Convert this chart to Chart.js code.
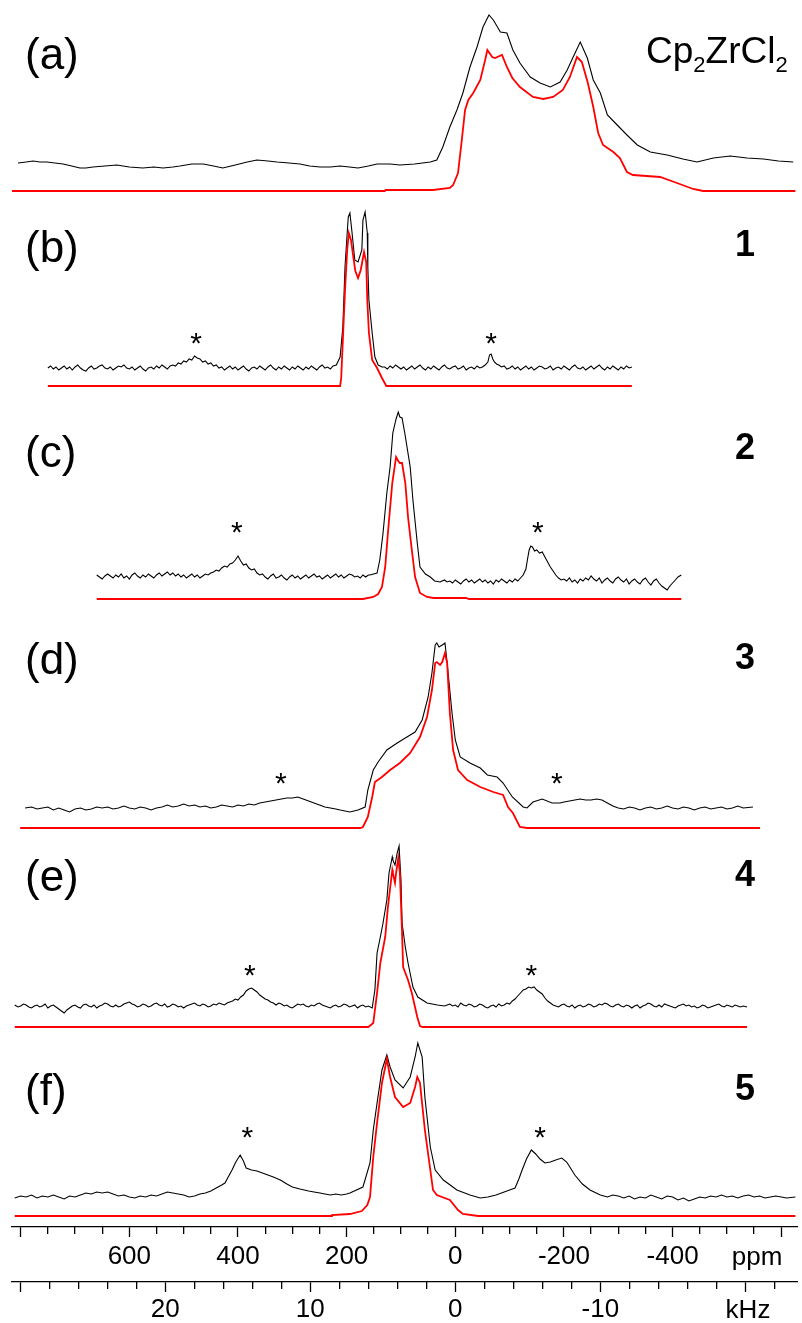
<!DOCTYPE html>
<html><head><meta charset="utf-8">
<script src="https://cdn.jsdelivr.net/npm/chart.js@4.4.1/dist/chart.umd.min.js"></script>
<style>html,body{margin:0;padding:0;background:#fff}canvas{display:block}</style>
</head><body>
<canvas id="c" width="802" height="1323"></canvas>
<script>
// ---------------- labels / ticks ----------------
const panelLetters = ['(a)', '(b)', '(c)', '(d)', '(e)', '(f)'];
const compoundNumbers = ['', '1', '2', '3', '4', '5'];
const formulaParts = [['Cp', false], ['2', true], ['ZrCl', false], ['2', true]];
const ppmTickValues = [800,750,700,650,600,550,500,450,400,350,300,250,200,150,100,50,0,-50,-100,-150,-200,-250,-300,-350,-400,-450,-500,-550,-600];
const ppmTickLabels = [600, 400, 200, 0, -200, -400];
const khzTickValues = [30,28,26,24,22,20,18,16,14,12,10,8,6,4,2,0,-2,-4,-6,-8,-10,-12,-14,-16,-18,-20,-22];
const khzTickLabels = [20, 10, 0, -10];
// spinning sideband positions (ppm) marked with asterisks, panels b-f
const sidebandPpm = [[], [477, -66], [402, -152], [321, -187], [378, -140], [383, -156]];

// ---------------- spectra: [ppm, intensity] ----------------
// (a) Cp2ZrCl2
const expA = [[805,2],[790,3],[777,4],[765,3],[752,3],[737,2],[722,1],[706,-1],[691,-3],[680,-3],[667,-2],[645,-1],[623,0],[600,-2],[575,-3],[555,-2],[538,-3],[520,-2],[507,-1],[485,1],[464,1],[445,-1],[428,-3],[405,0],[383,3],[365,5],[345,4],[328,3],[306,2],[286,1],[268,-1],[249,-2],[230,-2],[212,-1],[195,-2],[179,-3],[160,-1],[144,1],[120,1],[102,0],[75,1],[46,3],[34,5],[23,18],[10,38],[-3,55],[-14,72],[-27,98],[-40,118],[-51,138],[-62,150],[-70,145],[-83,133],[-95,132],[-106,115],[-119,102],[-138,88],[-156,82],[-175,78],[-193,83],[-206,95],[-217,108],[-230,123],[-243,107],[-254,85],[-267,72],[-280,50],[-298,40],[-316,30],[-335,20],[-359,13],[-390,10],[-419,6],[-445,3],[-475,7],[-506,9],[-537,7],[-567,6],[-595,4],[-622,3]];
const simA = [[816,0],[130,0],[128,1],[41,1],[10,3],[4,6],[-5,18],[-12,51],[-18,81],[-24,91],[-33,98],[-46,111],[-55,131],[-59,141],[-68,134],[-73,133],[-86,136],[-95,124],[-105,113],[-119,104],[-143,94],[-162,92],[-180,94],[-198,101],[-211,114],[-224,134],[-233,129],[-244,108],[-254,84],[-263,58],[-272,46],[-291,39],[-303,33],[-316,19],[-327,16],[-377,14],[-408,8],[-438,2],[-456,0],[-626,0]];
// (b) compound 1
const expB = [[750,0],[745,2],[740,-1],[735,1],[730,-2],[725,0],[720,2],[715,-1],[710,1],[705,-2],[700,1],[695,3],[690,0],[685,-2],[680,-3],[675,0],[670,2],[665,-1],[660,0],[655,2],[650,3],[645,0],[640,-1],[635,1],[630,-2],[625,0],[620,2],[615,1],[610,3],[605,0],[600,-1],[595,1],[590,-2],[585,0],[580,2],[575,-1],[570,-3],[565,0],[560,1],[555,-1],[550,2],[545,0],[540,3],[535,1],[530,-1],[525,2],[520,3],[515,2],[510,5],[505,4],[500,7],[495,6],[490,9],[485,8],[480,12],[475,10],[470,9],[465,6],[460,7],[455,4],[450,5],[445,2],[440,3],[435,0],[430,1],[425,-2],[420,0],[415,2],[410,-1],[405,1],[400,-2],[395,0],[390,2],[385,-1],[380,-3],[375,0],[370,1],[365,-1],[360,2],[355,0],[350,-2],[345,1],[340,3],[335,0],[330,-2],[325,1],[320,-1],[315,2],[310,0],[305,-2],[300,1],[295,-1],[290,2],[285,0],[280,-2],[275,1],[270,-1],[265,2],[260,0],[255,-2],[250,1],[245,3],[240,0],[235,1],[230,-1],[225,2],[219,3],[212,11],[207,41],[203,101],[199,135],[197,151],[194,155],[190,135],[185,108],[179,106],[172,118],[170,148],[166,156],[162,135],[161,101],[159,68],[153,35],[148,11],[142,3],[135,1],[130,1],[125,-1],[120,2],[115,0],[110,3],[105,1],[100,-1],[95,1],[90,-2],[85,0],[80,2],[75,-1],[70,1],[65,3],[60,0],[55,-2],[50,1],[45,-1],[40,2],[35,0],[30,-2],[25,1],[20,3],[15,0],[10,-1],[5,1],[0,2],[-5,-1],[-10,0],[-15,2],[-20,-2],[-25,0],[-30,1],[-35,-1],[-40,2],[-45,0],[-50,1],[-55,3],[-60,6],[-63,13],[-66,14],[-69,9],[-72,6],[-76,4],[-80,3],[-85,1],[-90,2],[-95,-1],[-100,0],[-105,2],[-110,-1],[-115,1],[-120,-2],[-125,0],[-130,2],[-135,-1],[-140,1],[-145,-2],[-150,0],[-155,2],[-160,1],[-165,-1],[-170,0],[-175,2],[-180,-2],[-185,0],[-190,1],[-195,-1],[-200,2],[-205,0],[-210,-2],[-215,1],[-220,3],[-225,0],[-230,-1],[-235,1],[-240,-2],[-245,0],[-250,2],[-255,-1],[-260,1],[-265,3],[-270,0],[-275,-2],[-280,1],[-285,-1],[-290,2],[-295,0],[-300,-2],[-305,1],[-310,-1],[-315,2],[-320,0],[-325,1]];
const simB = [[750,0],[212,0],[210,8],[207,46],[203,96],[199,136],[196,153],[192,146],[188,130],[184,115],[179,108],[174,116],[168,134],[164,124],[162,86],[159,53],[153,26],[144,18],[135,8],[127,0],[-325,0]];
// (c) compound 2
const expC = [[660,2],[655,0],[650,-2],[645,1],[640,3],[635,1],[630,-1],[625,2],[620,0],[615,3],[610,-1],[605,1],[600,-2],[595,2],[590,4],[585,1],[580,-1],[575,2],[570,0],[565,3],[560,1],[555,-1],[550,2],[545,4],[540,1],[535,3],[530,5],[525,2],[520,4],[515,1],[510,3],[505,0],[500,2],[495,-1],[490,1],[485,3],[480,0],[475,2],[470,-1],[465,1],[460,3],[455,2],[450,4],[445,5],[440,7],[435,6],[430,9],[425,11],[420,10],[415,13],[410,14],[405,17],[400,21],[395,16],[390,12],[385,13],[380,9],[375,7],[370,8],[365,4],[360,2],[355,3],[350,0],[345,-2],[340,1],[335,3],[330,-1],[325,0],[320,2],[315,-1],[310,-3],[305,0],[300,2],[295,-1],[290,1],[285,-2],[280,0],[275,2],[270,-1],[265,1],[260,3],[255,0],[250,1],[245,-2],[240,0],[235,2],[230,-1],[225,1],[220,3],[215,0],[210,2],[205,-1],[200,1],[195,3],[190,2],[185,0],[180,1],[175,-1],[170,2],[165,0],[160,2],[157,2],[144,4],[139,17],[133,44],[126,84],[120,110],[115,144],[109,158],[105,165],[102,160],[98,159],[93,144],[83,110],[78,77],[70,34],[65,10],[55,3],[46,0],[38,-4],[28,-5],[20,-3],[15,-5],[10,-4],[5,-6],[0,-3],[-5,-5],[-10,-7],[-15,-4],[-20,-2],[-25,-5],[-30,-3],[-35,-6],[-40,-4],[-45,-2],[-50,-5],[-55,-3],[-60,-6],[-65,-4],[-70,-7],[-75,-3],[-80,-5],[-85,-2],[-90,-4],[-95,-6],[-100,-3],[-105,-5],[-110,-2],[-115,-4],[-120,-1],[-125,2],[-130,8],[-133,18],[-136,27],[-139,31],[-142,30],[-146,26],[-150,27],[-155,24],[-160,25],[-165,20],[-170,15],[-175,10],[-180,6],[-185,2],[-190,-1],[-195,-3],[-200,-2],[-205,-4],[-210,-1],[-215,-5],[-220,-3],[-225,-6],[-230,-2],[-235,-4],[-240,-1],[-245,-3],[-250,1],[-255,-2],[-260,-4],[-265,-1],[-270,-6],[-275,-3],[-280,-1],[-285,-4],[-290,-6],[-295,-2],[-300,0],[-305,-3],[-310,-5],[-315,-2],[-320,-7],[-325,-4],[-330,-2],[-335,-5],[-340,-7],[-345,-3],[-350,-1],[-355,-5],[-360,-8],[-365,-4],[-370,-2],[-375,-6],[-380,-9],[-385,-11],[-390,-13],[-395,-9],[-400,-6],[-405,-3],[-410,0],[-416,2]];
const simC = [[660,0],[170,0],[151,2],[142,5],[135,12],[129,32],[124,66],[116,116],[109,142],[105,138],[102,136],[98,136],[92,116],[87,82],[80,49],[74,22],[65,6],[52,2],[40,1],[-20,1],[-25,0],[-416,0]];
// (d) compound 3
const expD = [[792,0],[780,1],[770,-1],[760,0],[750,1],[740,-2],[730,0],[720,-2],[710,-4],[700,-1],[690,0],[680,-2],[670,-1],[660,1],[650,0],[640,1],[630,-1],[620,0],[610,2],[600,0],[590,-1],[580,1],[570,0],[560,-2],[550,0],[540,1],[530,3],[520,1],[510,2],[500,4],[490,2],[480,3],[470,1],[460,2],[450,0],[440,1],[430,3],[420,2],[410,1],[400,3],[390,2],[380,4],[370,3],[360,5],[350,6],[340,7],[330,8],[320,9],[310,10],[300,10],[290,11],[280,9],[270,7],[260,5],[250,3],[240,1],[230,0],[220,-1],[212,-2],[194,-4],[179,-2],[166,1],[161,18],[151,38],[142,46],[126,58],[107,65],[89,71],[74,76],[61,88],[50,111],[43,135],[37,163],[34,165],[30,161],[24,163],[19,165],[15,145],[6,95],[0,68],[-9,51],[-27,45],[-46,40],[-59,33],[-77,31],[-88,25],[-105,11],[-125,1],[-132,0],[-143,6],[-160,9],[-178,5],[-193,5],[-200,6],[-210,7],[-220,8],[-230,9],[-240,8],[-250,8],[-260,9],[-270,8],[-280,5],[-290,2],[-300,0],[-310,-1],[-320,1],[-330,0],[-340,-2],[-350,0],[-360,1],[-370,-1],[-380,0],[-390,2],[-400,0],[-410,-1],[-420,1],[-430,0],[-440,-2],[-450,0],[-460,1],[-470,-1],[-480,0],[-490,1],[-500,-1],[-510,0],[-520,2],[-530,0],[-548,1]];
const simD = [[801,0],[175,0],[170,1],[161,11],[153,31],[148,46],[135,51],[120,58],[102,65],[83,75],[65,91],[52,111],[43,138],[37,165],[34,166],[28,163],[24,166],[19,175],[15,165],[10,115],[4,78],[-5,58],[-22,48],[-46,41],[-70,36],[-88,33],[-97,21],[-106,15],[-119,1],[-132,0],[-561,0]];
// (e) compound 4
const expE = [[811,1],[805,-1],[800,0],[795,2],[790,1],[785,-1],[780,-2],[775,0],[770,1],[765,-1],[760,0],[755,2],[750,-2],[745,0],[740,1],[735,-1],[730,-3],[725,-5],[720,-7],[715,-4],[710,-2],[705,0],[700,1],[695,-1],[690,-2],[685,1],[680,2],[675,0],[670,-1],[665,1],[660,-2],[655,0],[650,1],[645,3],[640,2],[635,0],[630,-1],[625,1],[620,-1],[615,0],[610,2],[605,3],[600,4],[595,2],[590,1],[585,-1],[580,0],[575,2],[570,1],[565,-1],[560,0],[555,2],[550,3],[545,1],[540,0],[535,2],[530,-1],[525,0],[520,2],[515,1],[510,-1],[505,0],[500,-2],[495,0],[490,1],[485,2],[480,3],[475,1],[470,0],[465,2],[460,1],[455,-1],[450,0],[445,2],[440,1],[435,3],[430,2],[425,1],[420,3],[415,4],[410,5],[405,7],[400,6],[395,9],[390,11],[385,15],[380,17],[375,18],[370,16],[365,14],[360,11],[355,9],[350,7],[345,6],[340,4],[335,3],[330,1],[325,3],[320,2],[315,0],[310,1],[305,-1],[300,-2],[295,0],[290,2],[285,1],[280,2],[275,0],[270,-1],[265,1],[260,0],[255,2],[250,3],[245,1],[240,0],[235,-1],[230,-2],[225,0],[220,1],[215,-1],[210,0],[205,2],[200,1],[195,-1],[190,0],[185,1],[180,-2],[175,0],[170,1],[165,-1],[160,0],[153,-2],[148,16],[144,53],[138,69],[133,83],[126,106],[122,133],[116,149],[115,146],[111,141],[107,153],[103.5,160],[100,126],[98,83],[92,59],[87,43],[78,19],[69,9],[52,3],[33,1],[20,0],[15,1],[10,2],[5,0],[0,1],[-5,-1],[-10,3],[-15,1],[-20,0],[-25,2],[-30,1],[-35,-1],[-40,0],[-45,2],[-50,1],[-55,-1],[-60,-2],[-65,0],[-70,1],[-75,-1],[-80,2],[-85,0],[-90,1],[-95,3],[-100,2],[-105,5],[-110,7],[-115,10],[-120,13],[-125,16],[-130,17],[-135,19],[-140,18],[-145,19],[-150,16],[-155,14],[-160,12],[-165,8],[-170,5],[-175,3],[-180,1],[-185,0],[-190,-1],[-195,1],[-200,2],[-205,0],[-210,-1],[-215,1],[-220,-2],[-225,0],[-230,1],[-235,-1],[-240,0],[-245,2],[-250,1],[-255,-1],[-260,0],[-265,2],[-270,1],[-275,3],[-280,2],[-285,0],[-290,-1],[-295,1],[-300,2],[-305,0],[-310,-1],[-315,1],[-320,0],[-325,-2],[-330,0],[-335,1],[-340,-2],[-345,0],[-350,1],[-355,3],[-360,2],[-365,0],[-370,-1],[-375,1],[-380,-1],[-385,2],[-390,1],[-395,0],[-400,-1],[-405,-2],[-410,0],[-415,1],[-420,2],[-425,0],[-430,1],[-435,-1],[-440,0],[-445,-2],[-450,-1],[-455,1],[-460,0],[-465,-2],[-470,-1],[-475,0],[-480,1],[-485,2],[-490,0],[-495,-1],[-500,1],[-505,0],[-510,-1],[-515,1],[-520,0],[-525,-1],[-530,0],[-537,-1]];
const simE = [[811,0],[160,0],[151,4],[144,34],[138,64],[129,90],[124,120],[116,157],[115,154],[111,144],[109,154],[105,169],[102,154],[98,94],[96,60],[87,47],[80,34],[70,10],[65,1],[60,0],[-537,0]];
// (f) compound 5
const expF = [[811,-1],[800,1],[790,0],[780,2],[770,-1],[760,1],[750,0],[740,2],[730,0],[720,-2],[710,1],[700,0],[690,2],[680,4],[670,3],[660,5],[650,4],[640,5],[630,3],[620,1],[610,2],[600,0],[590,-1],[580,1],[570,0],[560,2],[550,1],[540,3],[530,5],[520,4],[510,3],[500,2],[490,0],[480,1],[470,3],[460,4],[450,6],[440,9],[430,12],[424,14],[418,20],[411,27],[404,35],[396,42],[390,36],[385,29],[375,27],[365,26],[355,24],[345,22],[335,20],[322,17],[310,13],[300,10],[286,8],[270,6],[260,5],[249,4],[240,3],[230,2],[220,3],[210,2],[200,3],[194,4],[170,10],[157,34],[151,67],[144,94],[135,127],[126,142],[120,130],[111,117],[96,109],[83,120],[74,140],[69,154],[61,140],[56,100],[46,50],[37,27],[22,17],[-3,7],[-27,2],[-46,-1],[-60,0],[-75,2],[-90,5],[-100,7],[-110,9],[-117,18],[-123,27],[-131,38],[-140,47],[-148,43],[-156,38],[-165,34],[-175,35],[-185,37],[-196,39],[-205,35],[-212,29],[-220,22],[-234,13],[-248,7],[-267,2],[-280,0],[-290,2],[-300,1],[-310,-1],[-320,1],[-330,-2],[-340,0],[-350,-1],[-360,2],[-370,0],[-380,-2],[-390,1],[-400,0],[-410,-3],[-420,-1],[-430,-4],[-440,-2],[-450,0],[-460,-1],[-470,1],[-480,0],[-490,2],[-500,0],[-510,1],[-520,-1],[-530,1],[-540,2],[-550,0],[-560,1],[-570,-1],[-580,0],[-590,1],[-600,0],[-610,-1],[-626,0]];
const simF = [[811,0],[228,0],[227,1],[194,2],[172,5],[162,11],[157,19],[151,59],[144,93],[135,133],[126,157],[120,139],[111,119],[96,109],[83,113],[74,129],[70,139],[65,133],[56,86],[46,46],[41,26],[34,21],[10,16],[-5,6],[-14,2],[-42,0],[-626,0]];

// ---------------- layout (pixels) ----------------
const PLOT_H = 1227;
const layout = {
  expBase: [165, 368, 577, 808, 1006, 1197],
  simBase: [191, 386, 599, 828, 1027, 1216],
  letterX: 25,
  letterBaseline: [69, 262, 467, 674, 891, 1105],
  numberX: 745,
  numberBaseline: [0, 256, 459, 669, 886, 1100],
  starBaseline: [0, 353, 542, 793, 985, 1147],
  formulaX: 646, formulaBaseline: 63
};
const FONT = '"Liberation Sans", Arial, Helvetica, sans-serif';

const spectra = [[expA, simA], [expB, simB], [expC, simC], [expD, simD], [expE, simE], [expF, simF]];
const datasets = [];
spectra.forEach(([exp, sim], i) => {
  datasets.push({
    label: 'sim' + i,
    data: sim.map(([p, v]) => ({x: p, y: PLOT_H - layout.simBase[i] + v})),
    borderColor: '#ff0000', borderWidth: 1.8, order: 1, fill: false, pointRadius: 0, tension: 0
  });
  datasets.push({
    label: 'exp' + i,
    data: exp.map(([p, v]) => ({x: p, y: PLOT_H - layout.expBase[i] + v})),
    borderColor: '#000000', borderWidth: 1.1, order: 2, fill: false, pointRadius: 0, tension: 0
  });
});

function alignPx(p, w) { const h = w / 2; return Math.round(p - h) + h; }

const annotPlugin = {
  id: 'annot',
  afterDraw(chart) {
    const ctx = chart.ctx;
    const xs = chart.scales.x, x2 = chart.scales.x2;
    ctx.save();
    // minor ticks (shorter than major ones)
    ctx.strokeStyle = '#000'; ctx.lineWidth = 1.3;
    [[xs, 200], [x2, 10]].forEach(([s, every]) => {
      s.ticks.forEach(t => {
        if (Math.abs(Math.round(t.value)) % every !== 0) {
          const px = alignPx(s.getPixelForValue(t.value), 1.3);
          ctx.beginPath(); ctx.moveTo(px, s.top); ctx.lineTo(px, s.top + 7); ctx.stroke();
        }
      });
    });
    ctx.fillStyle = '#000';
    ctx.textBaseline = 'alphabetic';
    // panel letters
    ctx.font = '44px ' + FONT; ctx.textAlign = 'left';
    panelLetters.forEach((t, i) => ctx.fillText(t, layout.letterX, layout.letterBaseline[i]));
    // compound numbers
    ctx.font = 'bold 36px ' + FONT; ctx.textAlign = 'center';
    compoundNumbers.forEach((t, i) => { if (t) ctx.fillText(t, layout.numberX, layout.numberBaseline[i]); });
    // formula
    ctx.textAlign = 'left';
    let fx = layout.formulaX;
    formulaParts.forEach(([t, sub]) => {
      ctx.font = (sub ? '22px ' : '37px ') + FONT;
      ctx.fillText(t, fx, layout.formulaBaseline + (sub ? 9 : 0));
      fx += ctx.measureText(t).width;
    });
    // asterisks
    ctx.font = '30px ' + FONT; ctx.textAlign = 'center';
    sidebandPpm.forEach((arr, i) => arr.forEach(p => ctx.fillText('*', xs.getPixelForValue(p), layout.starBaseline[i])));
    // unit labels
    ctx.font = '26px ' + FONT;
    ctx.fillText('ppm', 757, 1265);
    ctx.fillText('kHz', 748, 1318);
    ctx.restore();
  }
};

const PPM_PER_KHZ = 26.7;
const PPM_MIN = -629, PPM_MAX = 816;

new Chart(document.getElementById('c'), {
  type: 'line',
  data: {datasets},
  options: {
    responsive: false, animation: false, devicePixelRatio: 1,
    layout: {padding: {left: 12, right: 5, top: 0, bottom: 0}},
    plugins: {legend: {display: false}, tooltip: {enabled: false}},
    elements: {point: {radius: 0}, line: {tension: 0}},
    scales: {
      y: {type: 'linear', display: false, min: 0, max: PLOT_H},
      x: {
        type: 'linear', axis: 'x', position: 'bottom', weight: 0,
        min: PPM_MIN, max: PPM_MAX, reverse: true, bounds: 'data',
        afterBuildTicks: s => { s.ticks = ppmTickValues.map(v => ({value: v})); },
        grid: {drawOnChartArea: false, drawTicks: true, tickLength: 10, tickWidth: 1.3, color: '#000',
               tickColor: c => (c.tick && Math.abs(Math.round(c.tick.value)) % 200 === 0) ? '#000' : 'rgba(0,0,0,0)'},
        border: {display: true, color: '#000', width: 1.3},
        ticks: {autoSkip: false, maxRotation: 0, minRotation: 0, padding: 4,
                color: '#000', font: {size: 26, family: FONT},
                callback: v => ppmTickLabels.includes(Math.round(v)) ? String(Math.round(v)) : ''},
        afterFit: s => { s.height = 55; }
      },
      x2: {
        type: 'linear', axis: 'x', position: 'bottom', weight: 1,
        min: PPM_MIN / PPM_PER_KHZ, max: PPM_MAX / PPM_PER_KHZ, reverse: true, bounds: 'data',
        afterBuildTicks: s => { s.ticks = khzTickValues.map(v => ({value: v})); },
        grid: {drawOnChartArea: false, drawTicks: true, tickLength: 10, tickWidth: 1.3, color: '#000',
               tickColor: c => (c.tick && Math.abs(Math.round(c.tick.value)) % 10 === 0) ? '#000' : 'rgba(0,0,0,0)'},
        border: {display: true, color: '#000', width: 1.3},
        ticks: {autoSkip: false, maxRotation: 0, minRotation: 0, padding: 2,
                color: '#000', font: {size: 26, family: FONT},
                callback: v => khzTickLabels.includes(Math.round(v)) ? String(Math.round(v)) : ''},
        afterFit: s => { s.height = 41; }
      }
    }
  },
  plugins: [annotPlugin]
});
</script>
</body></html>
